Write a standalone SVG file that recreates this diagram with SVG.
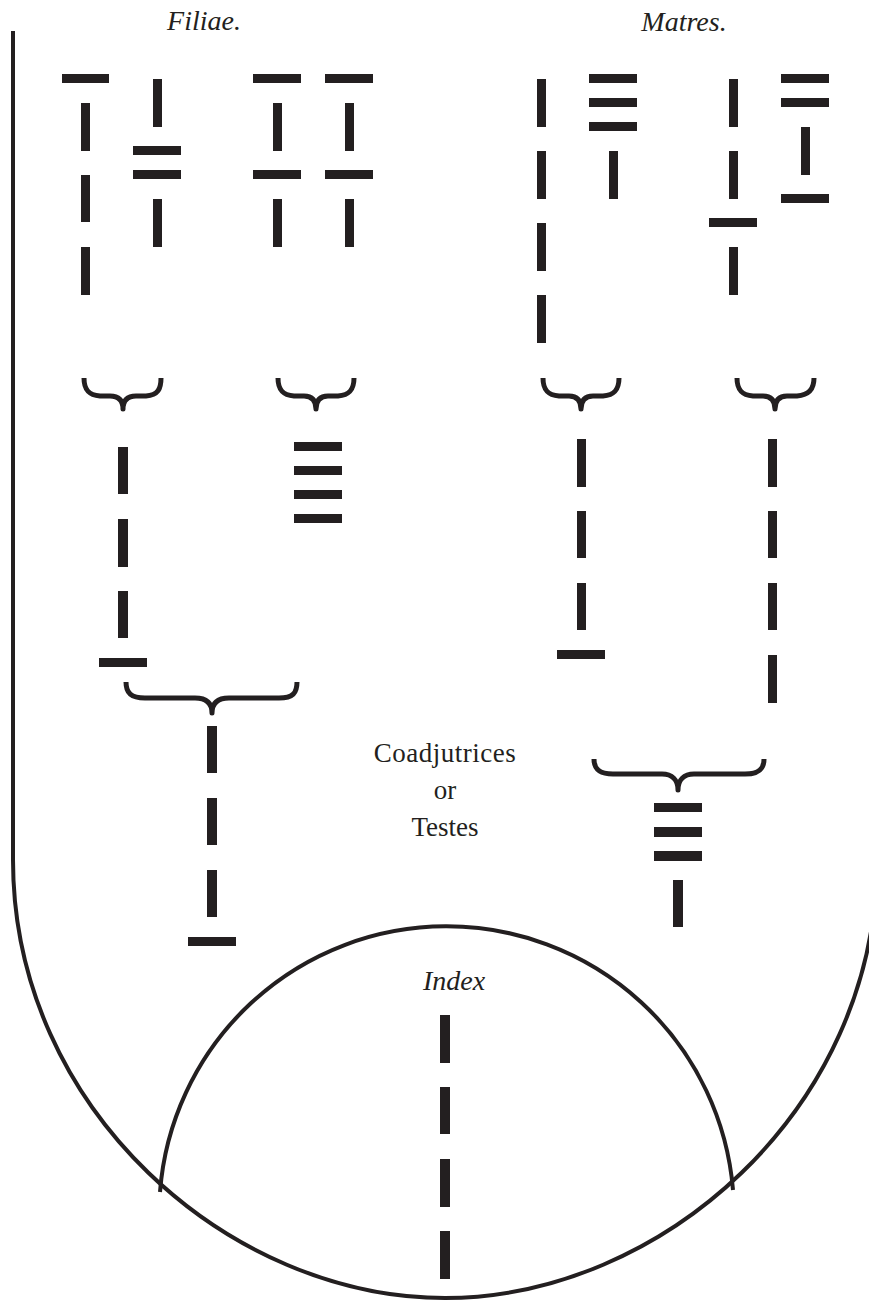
<svg xmlns="http://www.w3.org/2000/svg" width="869" height="1301" viewBox="0 0 869 1301">
<style>
.b{fill:#231f20}
.ln{fill:none;stroke:#231f20;stroke-width:4}
.br{fill:none;stroke:#231f20;stroke-width:5;stroke-linejoin:round}
.t{font-family:"Liberation Serif",serif;fill:#231f20;text-anchor:middle}
.it{font-style:italic}
</style>
<rect width="869" height="1301" fill="#fff"/>
<g id="frame">
<path class="ln" d="M13,31 L13,860 C13,1110 230,1298 445,1298 C660,1298 877,1110 877,860"/>
<path class="ln" d="M160,1192 A287.4,287.4 0 0 1 733,1190"/>
</g>
<g id="labels">
<text class="t it" x="204" y="30" font-size="28">Filiae.</text>
<text class="t it" x="684" y="31" font-size="28">Matres.</text>
<text class="t" x="445" y="762" font-size="27" letter-spacing="0.5">Coadjutrices</text>
<text class="t" x="445" y="799" font-size="27">or</text>
<text class="t" x="445" y="836" font-size="27">Testes</text>
<text class="t it" x="454" y="990" font-size="28">Index</text>
</g>
<g id="fig1"><rect class="b" x="62" y="74" width="47" height="9"/><rect class="b" x="81" y="103" width="9" height="48"/><rect class="b" x="81" y="175" width="9" height="47"/><rect class="b" x="81" y="247" width="9" height="48"/></g>
<g id="fig2"><rect class="b" x="153" y="79" width="9" height="48"/><rect class="b" x="133" y="146" width="48" height="9"/><rect class="b" x="133" y="170" width="48" height="9"/><rect class="b" x="153" y="199" width="9" height="48"/></g>
<g id="fig3"><rect class="b" x="253" y="74" width="48" height="9"/><rect class="b" x="273" y="103" width="9" height="48"/><rect class="b" x="253" y="170" width="48" height="9"/><rect class="b" x="273" y="199" width="9" height="48"/></g>
<g id="fig4"><rect class="b" x="325" y="74" width="48" height="9"/><rect class="b" x="345" y="103" width="9" height="48"/><rect class="b" x="325" y="170" width="48" height="9"/><rect class="b" x="345" y="199" width="9" height="48"/></g>
<g id="fig5"><rect class="b" x="537" y="79" width="9" height="48"/><rect class="b" x="537" y="151" width="9" height="48"/><rect class="b" x="537" y="223" width="9" height="48"/><rect class="b" x="537" y="295" width="9" height="48"/></g>
<g id="fig6"><rect class="b" x="589" y="74" width="48" height="9"/><rect class="b" x="589" y="98" width="48" height="9"/><rect class="b" x="589" y="122" width="48" height="9"/><rect class="b" x="609" y="151" width="9" height="48"/></g>
<g id="fig7"><rect class="b" x="729" y="79" width="9" height="48"/><rect class="b" x="729" y="151" width="9" height="48"/><rect class="b" x="709" y="218" width="48" height="9"/><rect class="b" x="729" y="247" width="9" height="48"/></g>
<g id="fig8"><rect class="b" x="781" y="74" width="48" height="9"/><rect class="b" x="781" y="98" width="48" height="9"/><rect class="b" x="801" y="127" width="9" height="48"/><rect class="b" x="781" y="194" width="48" height="9"/></g>
<g id="fig9"><rect class="b" x="118" y="447" width="10" height="47"/><rect class="b" x="118" y="519" width="10" height="48"/><rect class="b" x="118" y="591" width="10" height="47"/><rect class="b" x="99" y="658" width="48" height="9"/></g>
<g id="fig10"><rect class="b" x="294" y="442" width="48" height="9"/><rect class="b" x="294" y="466" width="48" height="9"/><rect class="b" x="294" y="490" width="48" height="9"/><rect class="b" x="294" y="514" width="48" height="9"/></g>
<g id="fig11"><rect class="b" x="577" y="439" width="9" height="48"/><rect class="b" x="577" y="511" width="9" height="47"/><rect class="b" x="577" y="583" width="9" height="47"/><rect class="b" x="557" y="650" width="48" height="9"/></g>
<g id="fig12"><rect class="b" x="768" y="439" width="9" height="48"/><rect class="b" x="768" y="511" width="9" height="47"/><rect class="b" x="768" y="583" width="9" height="47"/><rect class="b" x="768" y="655" width="9" height="48"/></g>
<g id="fig13"><rect class="b" x="207" y="726" width="10" height="47"/><rect class="b" x="207" y="798" width="10" height="47"/><rect class="b" x="207" y="870" width="10" height="47"/><rect class="b" x="188" y="937" width="48" height="9"/></g>
<g id="fig14"><rect class="b" x="654" y="803" width="48" height="9"/><rect class="b" x="654" y="827" width="48" height="10"/><rect class="b" x="654" y="851" width="48" height="10"/><rect class="b" x="673" y="880" width="10" height="47"/></g>
<g id="fig15"><rect class="b" x="440" y="1015" width="10" height="48"/><rect class="b" x="440" y="1087" width="10" height="47"/><rect class="b" x="440" y="1159" width="10" height="48"/><rect class="b" x="440" y="1231" width="10" height="48"/></g>
<g id="connectors">
<path class="br" d="M84,378 C84,389 88,395 100,396 L110,396 C118,396 123,400 123,409 C123,400 128,396 136,396 L146,396 C158,395 161,389 161,378"/>
<path class="br" d="M278,378 C278,389 282,395 294,396 L304,396 C312,396 316,400 316,409 C316,400 320,396 328,396 L338,396 C350,395 354,389 354,378"/>
<path class="br" d="M543,378 C543,389 547,395 559,396 L569,396 C577,396 581,400 581,409 C581,400 585,396 593,396 L603,396 C615,395 619,389 619,378"/>
<path class="br" d="M737,378 C737,389 741,395 753,396 L763,396 C771,396 775,400 775,409 C775,400 779,396 787,396 L797,396 C809,395 814,389 814,378"/>
<path class="br" d="M126,682 C126,693 131,698 145,698 L195,698 C206,698 212,703 212,713 C212,703 218,698 229,698 L279,698 C293,698 297,693 297,682"/>
<path class="br" d="M594,759 C594,769 599,774 613,774 L662,774 C672,774 678,780 678,790 C678,780 684,774 694,774 L745,774 C759,774 764,769 764,759"/>
</g>
</svg>
